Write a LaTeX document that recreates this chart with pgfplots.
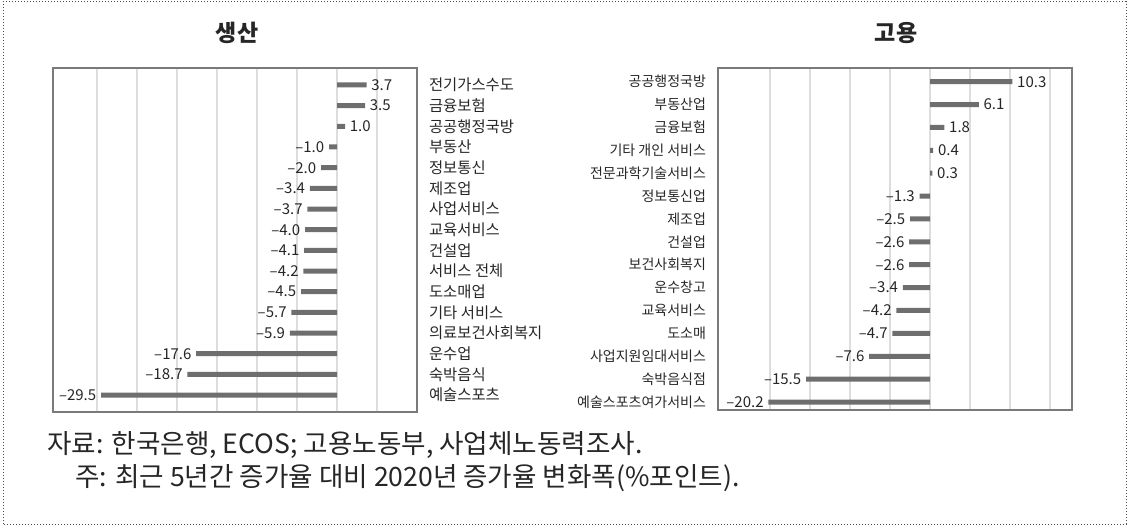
\documentclass[border=0pt]{standalone}
\usepackage{fontspec}
\setmainfont{Noto Sans CJK KR}
\usepackage{pgfplots}
\pgfplotsset{compat=1.18}
\definecolor{bargray}{HTML}{6E6E6E}
\definecolor{gridgray}{HTML}{DDDDDD}
\definecolor{framegray}{HTML}{7A7A7A}
\definecolor{txt}{HTML}{262626}
\begin{document}
\begin{tikzpicture}
\useasboundingbox (0,0) rectangle (564pt,263pt);
\draw[densely dotted, black!70, line width=0.5pt] (1.5pt,1pt) rectangle (563pt,262pt);
\pgfplotsset{
 mybar/.style={
  scale only axis, xbar, bar width=2.5pt, bar shift=0pt,
  y dir=reverse,
  axis line style={draw=framegray, line width=1pt},
  xmajorgrids, major grid style={draw=gridgray, line width=0.8pt},
  xticklabel=\empty, major tick length=0pt,
  point meta=explicit symbolic,
  nodes near coords,
  every node near coord/.append style={font=\fontsize{7.5pt}{8pt}\selectfont, text=txt, inner sep=2.2pt},
 },
 pos/.style={draw=none, fill=bargray, every node near coord/.append style={anchor=west}},
 neg/.style={draw=none, fill=bargray, every node near coord/.append style={anchor=east}},
}
% ---------- 생산 ----------
\begin{axis}[mybar,
  at={(26.5pt,57pt)}, anchor=south west,
  width=182pt, height=172pt,
  xmin=-35.5, xmax=10, xtick={-30,-25,...,5},
  ymin=-0.82, ymax=15.82, ytick={0,...,15},
  yticklabel pos=right,
  yticklabel style={font=\fontsize{7.7pt}{8pt}\selectfont, text=txt, anchor=west, xshift=2.5pt},
  yticklabels={전기가스수도,금융보험,공공행정국방,부동산,정보통신,제조업,사업서비스,교육서비스,건설업,서비스 전체,도소매업,기타 서비스,의료보건사회복지,운수업,숙박음식,예술스포츠},
]
\addplot[pos] coordinates {(3.7,0) [3.7] (3.5,1) [3.5] (1.0,2) [1.0]};
\addplot[neg] coordinates {(-1.0,3) [–1.0] (-2.0,4) [–2.0] (-3.4,5) [–3.4] (-3.7,6) [–3.7] (-4.0,7) [–4.0] (-4.1,8) [–4.1] (-4.2,9) [–4.2] (-4.5,10) [–4.5] (-5.7,11) [–5.7] (-5.9,12) [–5.9] (-17.6,13) [–17.6] (-18.7,14) [–18.7] (-29.5,15) [–29.5]};
\end{axis}
% ---------- 고용 ----------
\begin{axis}[mybar,
  at={(359pt,58pt)}, anchor=south west,
  width=177pt, height=171pt,
  xmin=-26.5, xmax=17.75, xtick={-20,-15,...,15},
  ymin=-0.6, ymax=14.35, ytick={0,...,14},
  yticklabel pos=left,
  yticklabel style={font=\fontsize{7pt}{8pt}\selectfont, text=txt, anchor=east, xshift=-2.5pt},
  yticklabels={공공행정국방,부동산업,금융보험,기타 개인 서비스,전문과학기술서비스,정보통신업,제조업,건설업,보건사회복지,운수창고,교육서비스,도소매,사업지원임대서비스,숙박음식점,예술스포츠여가서비스},
]
\addplot[pos] coordinates {(10.3,0) [10.3] (6.1,1) [6.1] (1.8,2) [1.8] (0.4,3) [0.4] (0.3,4) [0.3]};
\addplot[neg] coordinates {(-1.3,5) [–1.3] (-2.5,6) [–2.5] (-2.6,7) [–2.6] (-2.6,8) [–2.6] (-3.4,9) [–3.4] (-4.2,10) [–4.2] (-4.7,11) [–4.7] (-7.6,12) [–7.6] (-15.5,13) [–15.5] (-20.2,14) [–20.2]};
\end{axis}
% titles
\node[font=\fontsize{11.5pt}{13pt}\selectfont\bfseries, text=txt] at (118.5pt,246.5pt) {생산};
\node[font=\fontsize{11.5pt}{13pt}\selectfont\bfseries, text=txt] at (448pt,246.5pt) {고용};
% footer
\node[anchor=west, font=\fontsize{13.3pt}{15pt}\selectfont, text=txt, inner sep=0pt] at (23.5pt,40.5pt) {자료: 한국은행, ECOS; 고용노동부, 사업체노동력조사.};
\node[anchor=west, font=\fontsize{13.3pt}{15pt}\selectfont, text=txt, inner sep=0pt] at (37.5pt,24pt) {주: 최근 5년간 증가율 대비 2020년 증가율 변화폭(\%포인트).};
\end{tikzpicture}
\end{document}
